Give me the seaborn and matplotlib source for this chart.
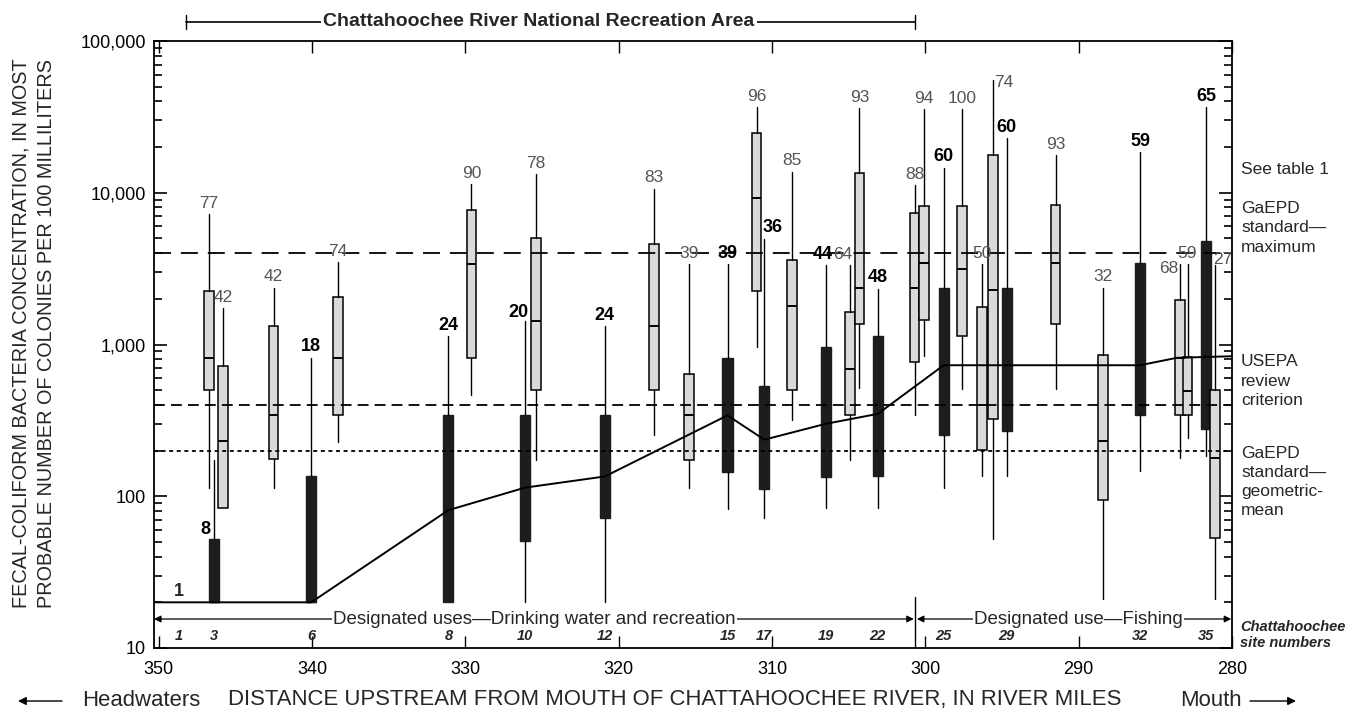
import matplotlib
matplotlib.use("Agg")
import matplotlib.pyplot as plt
import matplotlib.transforms as mtransforms
from matplotlib import font_manager
from matplotlib.ticker import FixedLocator, LogLocator, FuncFormatter, NullFormatter
import seaborn as sns

# ---- values ----
# stippled boxes: river mile, low whisker, 25th, median, 75th, high whisker, number of samples
light_miles = [346.7, 345.8, 342.5, 338.3, 329.6, 325.4, 317.7, 315.4, 311.0, 308.7, 304.9,
               304.3, 300.7, 300.1, 297.6, 296.3, 295.6, 291.5, 288.4, 283.4, 282.9, 281.1]
light_lo = [113, 84, 113, 228, 468, 174, 252, 113, 960, 320, 174,
            515, 345, 837, 512, 135, 52, 512, 21, 180, 242, 21]
light_q1 = [505, 84, 176, 341, 817, 505, 505, 174, 2248, 505, 341,
            1355, 764, 1446, 1146, 203, 323, 1355, 95, 345, 345, 53]
light_med = [817, 232, 341, 817, 3373, 1419, 1321, 341, 9200, 1790, 691,
             2368, 2368, 3425, 3126, 400, 2280, 3425, 232, 817, 492, 180]
light_q3 = [2248, 719, 1321, 2065, 7660, 5010, 4571, 641, 24700, 3600, 1634,
            13450, 7325, 8180, 8180, 1763, 17690, 8270, 859, 1960, 825, 505]
light_hi = [7210, 1729, 2368, 3493, 11380, 13250, 10660, 3373, 36500, 13720, 3320,
            36100, 11210, 35560, 35560, 3373, 55570, 17690, 2368, 3373, 3373, 3320]
light_n = [77, 42, 42, 74, 90, 78, 83, 39, 96, 85, 64, 93, 88, 94, 100, 50, 74, 93, 32, 68, 59, 27]

# black boxes
dark_miles = [346.4, 340.05, 331.1, 326.1, 320.9, 312.9, 310.5, 306.5, 303.1, 298.8, 294.7, 286.0, 281.7]
dark_lo = [20, 20, 20, 20, 20, 82, 72, 84, 84, 114, 135, 147, 183]
dark_q1 = [20, 20, 20, 51, 72, 144, 112, 134, 135, 255, 268, 345, 279]
dark_med = [20, 20, 81, 114, 135, 341, 236, 300, 349, 730, 730, 730, 830]
dark_q3 = [52, 135, 341, 341, 341, 817, 531, 960, 1135, 2368, 2368, 3470, 4808]
dark_hi = [174, 817, 1135, 1419, 1321, 3373, 4990, 3335, 2330, 14660, 22800, 18420, 36500]
dark_n = [8, 18, 24, 20, 24, 39, 36, 44, 48, 60, 60, 59, 65]

# site 1 has a single sample
site1_mile = 348.7
site1_value = 20
site1_n = 1

# solid line along the river
line_miles = [350.3, 346.4, 340.05, 331.1, 326.1, 320.9, 312.9, 310.5, 306.5, 303.1,
              298.8, 294.7, 286.0, 283.6, 280.0]
line_vals = [20, 20, 20, 81, 114, 135, 341, 236, 300, 349, 730, 730, 730, 817, 837]

site_numbers = [1, 3, 6, 8, 10, 12, 15, 17, 19, 22, 25, 29, 32, 35]
site_miles = [site1_mile] + dark_miles

gaepd_max = 4000
usepa_review = 400
gaepd_geomean = 200

x_ticks = [350, 340, 330, 320, 310, 300, 290, 280]
y_ticks = [10, 100, 1000, 10000, 100000]

# ---- style ----
sns.set_theme(style="ticks")
names = {f.name for f in font_manager.fontManager.ttflist}
main_font = "Liberation Sans Narrow" if "Liberation Sans Narrow" in names else "Liberation Sans"
plt.rcParams["font.family"] = [main_font, "DejaVu Sans"]
plt.rcParams["axes.linewidth"] = 1.3
plt.rcParams["axes.edgecolor"] = "black"

PX = 0.72  # points per pixel at 100 dpi
W, H = 1345, 713

fig = plt.figure(figsize=(13.45, 7.13), dpi=100)
ax = fig.add_axes([154 / W, 1 - 648 / H, (1232 - 154) / W, (648 - 41) / H])
ax.set_yscale("log")
ax.set_xlim(350.3, 280)
ax.set_ylim(10, 100000)

# reference criteria
ax.axhline(gaepd_max, color="black", lw=1.3, dashes=(9.4, 5.5), zorder=4)
ax.axhline(usepa_review, color="black", lw=1.3, dashes=(6, 3.4), zorder=4)
ax.axhline(gaepd_geomean, color="black", lw=1.3, dashes=(2.2, 2.0), zorder=4)

# boxes
def box_stats(lo, q1, med, q3, hi):
    return [dict(whislo=a, q1=b, med=c, q3=d, whishi=e, fliers=[])
            for a, b, c, d, e in zip(lo, q1, med, q3, hi)]

ax.bxp(box_stats(dark_lo, dark_q1, dark_med, dark_q3, dark_hi), positions=dark_miles,
       widths=0.66, patch_artist=True, showfliers=False, showcaps=False, manage_ticks=False,
       boxprops=dict(facecolor="#1d1d1d", edgecolor="#1d1d1d", linewidth=1.0),
       whiskerprops=dict(color="black", linewidth=1.0),
       medianprops=dict(color="#1d1d1d", linewidth=1.0), zorder=2)
ax.bxp(box_stats(light_lo, light_q1, light_med, light_q3, light_hi), positions=light_miles,
       widths=0.62, patch_artist=True, showfliers=False, showcaps=False, manage_ticks=False,
       boxprops=dict(facecolor="#dadada", edgecolor="black", linewidth=1.1),
       whiskerprops=dict(color="black", linewidth=1.0),
       medianprops=dict(color="black", linewidth=1.4), zorder=2)

sns.lineplot(x=line_miles, y=line_vals, ax=ax, color="black", linewidth=1.4, zorder=5)

# sample counts
light_shift = {10: (-7, 0), 16: (11, -13.6), 19: (-10.7, -14.7), 21: (7.3, -5)}
for i, (m, hi, n) in enumerate(zip(light_miles, light_hi, light_n)):
    dx, dy = light_shift.get(i, (0, 0))
    ax.annotate(str(n), xy=(m, hi), xytext=(dx * PX, (11 + dy) * PX), textcoords="offset points",
                ha="center", va="center", fontsize=12.5, color="#555555", zorder=6)

dark_shift = {3: (-7, -2), 6: (8, 0), 7: (-3, 0)}
for i, (m, hi, n) in enumerate(zip(dark_miles, dark_hi, dark_n)):
    dx, dy = dark_shift.get(i, (0, 0))
    y = hi
    if i == 0:
        y, dx, dy = dark_q3[0], -8, -1
    ax.annotate(str(n), xy=(m, y), xytext=(dx * PX, (11 + dy) * PX), textcoords="offset points",
                ha="center", va="center", fontsize=13, fontweight="bold", color="black", zorder=6)
ax.annotate(str(site1_n), xy=(site1_mile, site1_value), xytext=(0, 11 * PX),
            textcoords="offset points", ha="center", va="center",
            fontsize=13, fontweight="bold", zorder=6)

# axes ticks
ax.set_xticks(x_ticks)
ax.set_xticklabels([str(t) for t in x_ticks])
ax.yaxis.set_major_locator(FixedLocator(y_ticks))
ax.yaxis.set_major_formatter(FuncFormatter(lambda v, p: f"{v:,.0f}"))
ax.yaxis.set_minor_locator(LogLocator(base=10, subs=range(2, 10)))
ax.yaxis.set_minor_formatter(NullFormatter())
ax.tick_params(axis="both", which="both", direction="in", top=True, right=True,
               colors="black", labelsize=13)
ax.tick_params(axis="y", which="major", length=9.5, width=1.2, pad=6)
ax.tick_params(axis="y", which="minor", length=5.8, width=1.2)
ax.tick_params(axis="x", which="major", length=8.5, width=1.0, pad=9)
ax.set_xlabel("")
ax.set_ylabel("")

trans = mtransforms.blended_transform_factory(ax.transData, ax.transAxes)

def yfrac(py):
    return (648 - py) / (648 - 41)

# recreation area bracket above the plot
yb = yfrac(22)
ax.plot([348.2, 300.7], [yb, yb], transform=trans, color="black", lw=1.2, clip_on=False)
for xe in (348.2, 300.7):
    ax.plot([xe, xe], [yfrac(15), yfrac(29)], transform=trans, color="black", lw=1.0, clip_on=False)
ax.text(325.2, yb, "Chattahoochee River National Recreation Area", transform=trans,
        ha="center", va="center", fontsize=14, fontweight="bold",
        bbox=dict(facecolor="white", edgecolor="none", pad=2))

# designated uses along the bottom
ya = yfrac(619)
ax.annotate("", xy=(350.3, ya), xytext=(300.75, ya), xycoords=trans, textcoords=trans,
            arrowprops=dict(arrowstyle="<|-|>", color="black", lw=0.9, mutation_scale=10,
                            shrinkA=0, shrinkB=0))
ax.annotate("", xy=(300.55, ya), xytext=(280.05, ya), xycoords=trans, textcoords=trans,
            arrowprops=dict(arrowstyle="<|-|>", color="black", lw=0.9, mutation_scale=10,
                            shrinkA=0, shrinkB=0))
ax.text(325.5, ya, "Designated uses\u2014Drinking water and recreation", transform=trans,
        ha="center", va="center", fontsize=13.5,
        bbox=dict(facecolor="white", edgecolor="none", pad=1))
ax.text(290.0, ya, "Designated use\u2014Fishing", transform=trans, ha="center", va="center",
        fontsize=13.5, bbox=dict(facecolor="white", edgecolor="none", pad=1))
ax.plot([300.65, 300.65], [0, yfrac(597)], transform=trans, color="black", lw=1.0)

for num, m in zip(site_numbers, site_miles):
    ax.text(m, yfrac(636), str(num), transform=trans, ha="center", va="center",
            fontsize=10.5, fontweight="bold", fontstyle="italic")
fig.text(1240 / W, 1 - 635 / H, "Chattahoochee\nsite numbers", ha="left", va="center",
         fontsize=10.5, fontweight="bold", fontstyle="italic", linespacing=1.1)

# criteria notes on the right
right_notes = [("See table 1", 170), ("GaEPD\nstandard\u2014\nmaximum", 228),
               ("USEPA\nreview\ncriterion", 381), ("GaEPD\nstandard\u2014\ngeometric-\nmean", 482)]
for txt, py in right_notes:
    fig.text(1241 / W, 1 - py / H, txt, ha="left", va="center", fontsize=12.5, linespacing=1.35)

# axis titles
fig.text(34 / W, 1 - 333 / H,
         "FECAL-COLIFORM BACTERIA CONCENTRATION, IN MOST\n"
         "PROBABLE NUMBER OF COLONIES PER 100 MILLILITERS",
         rotation=90, ha="center", va="center", fontsize=14.3, linespacing=1.4)
fig.text(675 / W, 1 - 700 / H,
         "DISTANCE UPSTREAM FROM MOUTH OF CHATTAHOOCHEE RIVER, IN RIVER MILES",
         ha="center", va="center", fontsize=15.9)
fig.text(82 / W, 1 - 700 / H, "Headwaters", ha="left", va="center", fontsize=15.9)
fig.text(1180 / W, 1 - 700 / H, "Mouth", ha="left", va="center", fontsize=15.9)
arrow_kw = dict(arrowstyle="-|>", color="black", lw=1.0, mutation_scale=12, shrinkA=0, shrinkB=0)
fig.add_artist(matplotlib.patches.FancyArrowPatch((62 / W, 1 - 701 / H), (18 / W, 1 - 701 / H),
                                                  transform=fig.transFigure, **arrow_kw))
fig.add_artist(matplotlib.patches.FancyArrowPatch((1250 / W, 1 - 701 / H), (1296 / W, 1 - 701 / H),
                                                  transform=fig.transFigure, **arrow_kw))

fig.savefig("out.png", dpi=100)
